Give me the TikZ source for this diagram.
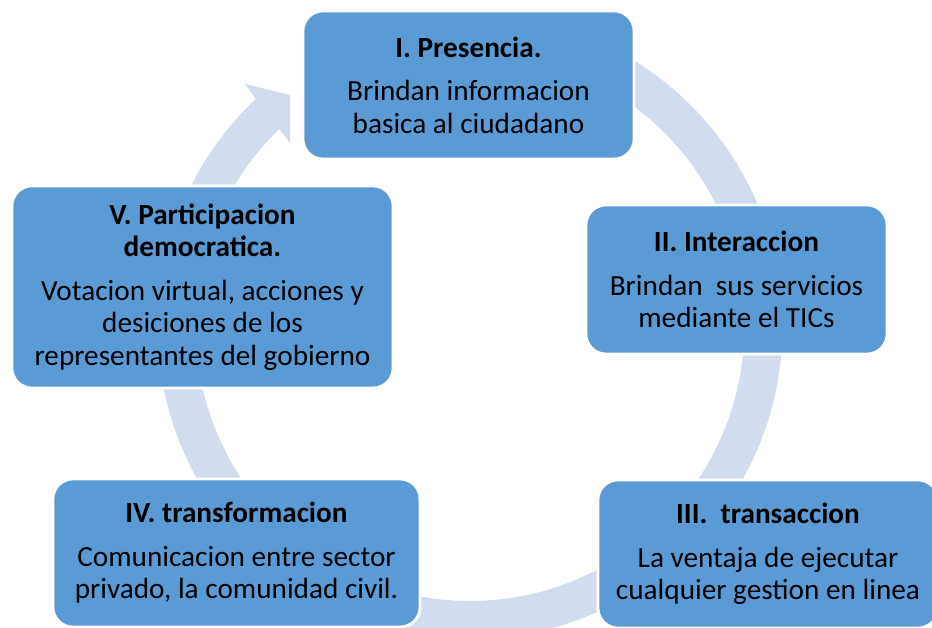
\documentclass[tikz,border=0pt]{standalone}
\usepackage{fontspec}
\setmainfont{Carlito}
\definecolor{stageblue}{RGB}{91,155,213}
\definecolor{ringblue}{RGB}{209,221,239}

\begin{document}
\begin{tikzpicture}[x=0.025cm, y=0.025cm,
    stage/.style={rectangle, rounded corners=0.5cm, draw=white, line width=2pt,
                  fill=stageblue, text=black, align=center, inner sep=0pt,
                  font=\fontsize{20.8}{23}\selectfont}]
    \useasboundingbox (0,0) rectangle (932,628);
    \clip (0,0) rectangle (932,628);
    \fill[white] (0,0) rectangle (932,628);

    % Cycle arrow behind the stages
    \coordinate (c) at (470,301.5);
    \fill[ringblue] ([shift={(c)}]90:312.5) arc[start angle=90, end angle=-226.75, radius=312.5]
        -- (245,544) -- (290,533) -- (290,485) -- ([shift={(c)}]134:274.5)
        arc[start angle=-226, end angle=90, radius=274.5] -- cycle;

    % Stages
    \node[stage, minimum width=8.275cm, minimum height=3.7cm] (presencia) at (468.5,543)
        {\textbf{I. Presencia.}\\[8pt] Brindan informacion\\ basica al ciudadano};
    \node[stage, minimum width=7.525cm, minimum height=3.725cm] (interaccion) at (736.5,348.5)
        {\textbf{II. Interaccion}\\[8pt] Brindan\ \ sus servicios\\ mediante el TICs};
    \node[stage, minimum width=8.5cm, minimum height=3.7cm] (transaccion) at (768,74)
        {\textbf{III.\ \ transaccion}\\[8pt] La ventaja de ejecutar\\ cualquier gestion en linea};
    \node[stage, minimum width=9.175cm, minimum height=3.7cm] (transformacion) at (236.5,75)
        {\textbf{IV. transformacion}\\[8pt] Comunicacion entre sector\\ privado, la comunidad civil.};
    \node[stage, minimum width=9.525cm, minimum height=5.05cm] (participacion) at (202.5,341)
        {\textbf{V. Participacion}\\ \textbf{democratica.}\\[8pt] Votacion virtual, acciones y\\
         desiciones de los\\ representantes del gobierno};
\end{tikzpicture}
\end{document}
